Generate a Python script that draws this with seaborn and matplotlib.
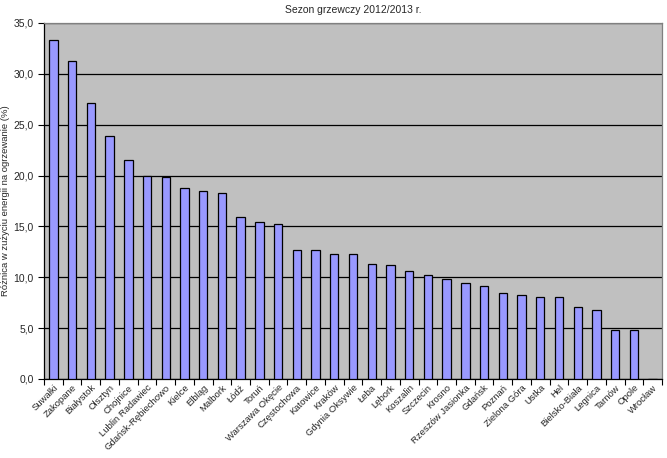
import numpy as np
import pandas as pd
import matplotlib
matplotlib.use("Agg")
import matplotlib.pyplot as plt
import seaborn as sns
from matplotlib.ticker import FuncFormatter, FixedLocator

stations = ["Suwałki", "Zakopane", "Białystok", "Olsztyn", "Chojnice", "Lublin Radawiec",
            "Gdańsk-Rębiechowo", "Kielce", "Elbląg", "Malbork", "Łódź", "Toruń",
            "Warszawa Okęcie", "Częstochowa", "Katowice", "Kraków", "Gdynia Oksywie",
            "Łeba", "Lębork", "Koszalin", "Szczecin", "Krosno", "Rzeszów Jasionka",
            "Gdańsk", "Poznań", "Zielona Góra", "Ustka", "Hel", "Bielsko-Biała",
            "Legnica", "Tarnów", "Opole", "Wrocław"]
diff = [33.3, 31.3, 27.1, 23.9, 21.5, 20.0, 19.9, 18.8, 18.5, 18.3, 15.9, 15.4,
        15.2, 12.7, 12.7, 12.3, 12.3, 11.3, 11.2, 10.6, 10.2, 9.8, 9.4,
        9.1, 8.5, 8.3, 8.1, 8.1, 7.1, 6.8, 4.8, 4.8, 0.0]

df = pd.DataFrame({"Stacja": stations, "Roznica": diff})

sns.set_style("white")
plt.rcParams['font.family'] = ['Liberation Sans', 'DejaVu Sans']

fig = plt.figure(figsize=(6.67, 4.58), dpi=100)
ax = fig.add_axes([0.066, 0.1725, 0.9265, 0.7773])
ax.set_facecolor("#C0C0C0")

sns.barplot(data=df, x="Stacja", y="Roznica", color="#9999FF", saturation=1,
            width=0.45, edgecolor="black", linewidth=0.9, ax=ax, zorder=3)

ax.set_ylim(0, 35)
ax.set_xlim(-0.5, len(stations) - 0.5)
ax.set_yticks(np.arange(0, 36, 5))
ax.yaxis.set_major_formatter(FuncFormatter(lambda v, p: f"{v:.1f}".replace(".", ",")))
ax.grid(axis="y", color="black", linewidth=0.9, zorder=0)
ax.set_axisbelow(True)

# category ticks between bars, labels centred under bars
ax.xaxis.set_minor_locator(FixedLocator(np.arange(-0.5, len(stations), 1)))
ax.tick_params(axis="x", which="major", length=0, labelsize=6.8, pad=3)
ax.tick_params(axis="x", which="minor", length=4, width=0.8, direction="out", color="black")
ax.tick_params(axis="y", length=4, width=0.8, direction="out", color="black", labelsize=7.5)
ax.xaxis.set_ticks_position("bottom")
ax.yaxis.set_ticks_position("left")
for lab in ax.get_xticklabels():
    lab.set_rotation(45)
    lab.set_ha("right")
    lab.set_rotation_mode("anchor")

for side in ["left", "bottom"]:
    ax.spines[side].set_color("black")
    ax.spines[side].set_linewidth(0.9)
for side in ["top", "right"]:
    ax.spines[side].set_color("#808080")
    ax.spines[side].set_linewidth(0.9)

ax.set_xlabel("")
ax.set_ylabel("Różnica w zużyciu energii na ogrzewanie (%)", fontsize=6.8)
ax.yaxis.set_label_coords(-0.055, 0.5)
ax.set_title("Sezon grzewczy 2012/2013 r.", fontsize=7.5, pad=7)

fig.savefig("out.png", dpi=100)
